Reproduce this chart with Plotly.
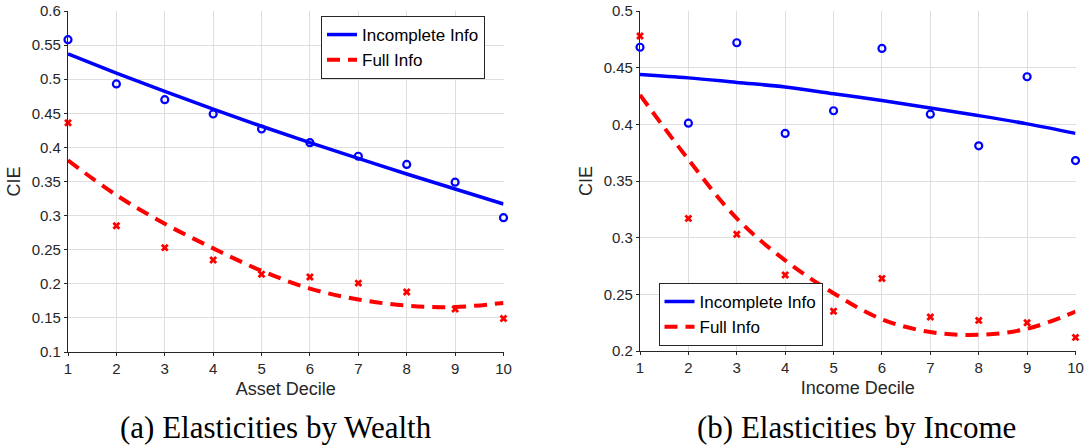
import plotly.graph_objects as go

deciles = [1, 2, 3, 4, 5, 6, 7, 8, 9, 10]

# (a) Elasticities by Wealth
wealth_incomplete_pts = [0.558, 0.493, 0.470, 0.449, 0.427, 0.407, 0.387, 0.375, 0.349, 0.297]
wealth_full_pts = [0.436, 0.285, 0.253, 0.235, 0.214, 0.210, 0.201, 0.188, 0.163, 0.149]
wealth_incomplete_fit = [0.537, 0.509, 0.482, 0.456, 0.431, 0.407, 0.384, 0.361, 0.339, 0.317]
wealth_full_fit = [0.381, 0.330, 0.288, 0.252, 0.219, 0.193, 0.177, 0.168, 0.166, 0.172]

# (b) Elasticities by Income
income_incomplete_pts = [0.468, 0.401, 0.472, 0.392, 0.412, 0.467, 0.409, 0.381, 0.442, 0.368]
income_full_pts = [0.478, 0.317, 0.303, 0.267, 0.235, 0.264, 0.230, 0.227, 0.225, 0.212]
income_incomplete_fit = [0.444, 0.441, 0.437, 0.433, 0.427, 0.421, 0.4145, 0.4077, 0.4004, 0.392]
income_full_fit = [0.426, 0.369, 0.317, 0.280, 0.251, 0.228, 0.2167, 0.2143, 0.2196, 0.2348]

W, H = 1084, 448
BLUE = "#0000ff"
RED = "#ff0000"
AX = "#262626"
GRID = "#dedede"
FONT = "Liberation Sans"

fig = go.Figure()

def add_panel(xa, ya, legend, inc_pts, full_pts, inc_fit, full_fit):
    fig.add_trace(go.Scatter(x=deciles, y=inc_fit, mode="lines", name="Incomplete Info",
                             line=dict(color=BLUE, width=3.5, shape="spline"),
                             xaxis=xa, yaxis=ya, legend=legend, cliponaxis=False))
    fig.add_trace(go.Scatter(x=deciles, y=full_fit, mode="lines", name="Full Info",
                             line=dict(color=RED, width=4, dash="13px,8px", shape="spline"),
                             xaxis=xa, yaxis=ya, legend=legend, cliponaxis=False))
    fig.add_trace(go.Scatter(x=deciles, y=inc_pts, mode="markers", showlegend=False,
                             marker=dict(symbol="circle-open", size=7, color=BLUE,
                                         line=dict(width=2.2, color=BLUE)),
                             xaxis=xa, yaxis=ya, cliponaxis=False))
    fig.add_trace(go.Scatter(x=deciles, y=full_pts, mode="markers", showlegend=False,
                             marker=dict(symbol="x", size=7, color=RED, line=dict(width=0)),
                             xaxis=xa, yaxis=ya, cliponaxis=False))

add_panel("x", "y", "legend", wealth_incomplete_pts, wealth_full_pts,
          wealth_incomplete_fit, wealth_full_fit)
add_panel("x2", "y2", "legend2", income_incomplete_pts, income_full_pts,
          income_incomplete_fit, income_full_fit)

def xaxis_cfg(domain, title, anchor):
    return dict(domain=domain, range=[1, 10], tickvals=deciles, anchor=anchor,
                showgrid=True, gridcolor=GRID, gridwidth=1, zeroline=False,
                showline=True, linecolor=AX, linewidth=1.3, ticks="outside", ticklen=3,
                tickcolor=AX, tickfont=dict(family=FONT, size=15, color=AX),
                title=dict(text=title, font=dict(family=FONT, size=18, color=AX), standoff=6),
                automargin=False, mirror=False)

def yaxis_cfg(domain, rng, anchor):
    return dict(domain=domain, range=rng, dtick=0.05, tick0=0, anchor=anchor,
                showgrid=True, gridcolor=GRID, gridwidth=1, zeroline=False,
                showline=True, linecolor=AX, linewidth=1.3, ticks="outside", ticklen=3,
                tickcolor=AX, tickfont=dict(family=FONT, size=15, color=AX),
                title=dict(text="CIE", font=dict(family=FONT, size=18, color=AX), standoff=6),
                automargin=False, mirror=False)

fig.update_layout(
    width=W, height=H,
    margin=dict(l=0, r=0, t=0, b=0),
    paper_bgcolor="white", plot_bgcolor="white",
    xaxis=xaxis_cfg([68 / W, 503.5 / W], "Asset Decile", "y"),
    yaxis=yaxis_cfg([(H - 352) / H, (H - 11) / H], [0.1, 0.6], "x"),
    xaxis2=xaxis_cfg([640 / W, 1075.5 / W], "Income Decile", "y2"),
    yaxis2=yaxis_cfg([(H - 351) / H, (H - 11) / H], [0.2, 0.5], "x2"),
    legend=dict(x=403 / W, y=(H - 47.5) / H, xanchor="center", yanchor="middle",
                bgcolor="white", bordercolor=AX, borderwidth=1,
                font=dict(family=FONT, size=17, color="black"),
                tracegroupgap=0, itemwidth=30),
    legend2=dict(x=740.5 / W, y=(H - 314.5) / H, xanchor="center", yanchor="middle",
                 bgcolor="white", bordercolor=AX, borderwidth=1,
                 font=dict(family=FONT, size=17, color="black"),
                 tracegroupgap=0, itemwidth=30),
    showlegend=True,
)

captions = ["(a) Elasticities by Wealth", "(b) Elasticities by Income"]
cap_x = [276, 856]
for txt, cx in zip(captions, cap_x):
    fig.add_annotation(text=txt, x=cx / W, y=(H - 427) / H, xref="paper", yref="paper",
                       xanchor="center", yanchor="middle", showarrow=False,
                       font=dict(family="Liberation Serif", size=31, color="black"))

fig.write_html("out.html")
